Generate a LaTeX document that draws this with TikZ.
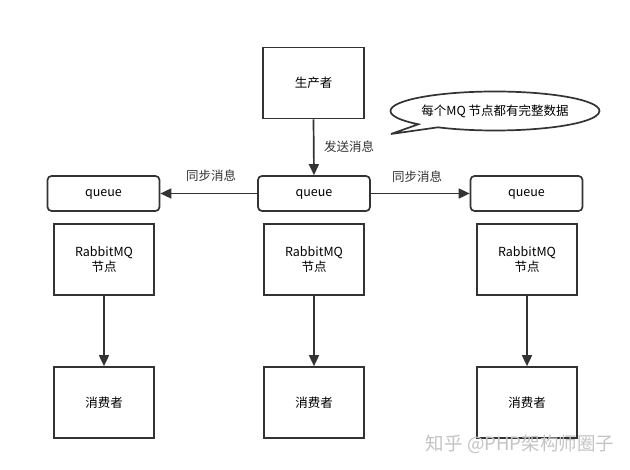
\documentclass[tikz,border=0pt]{standalone}
\usepackage{fontspec}
\setmainfont{Noto Sans CJK SC}
\usetikzlibrary{arrows.meta,shapes.callouts}
\definecolor{ink}{HTML}{333333}
\definecolor{wm}{HTML}{C4C4C4}
\tikzset{
  box/.style={draw=ink,line width=1.7pt,minimum width=100pt,minimum height=71pt,inner sep=0pt,align=center,font=\fontsize{12.5}{15}\selectfont},
  qbox/.style={draw=ink,line width=1.7pt,rounded corners=4pt,minimum width=112pt,minimum height=35pt,inner sep=0pt,text height=8pt,text depth=2pt,font=\fontsize{12.5}{15}\selectfont},
  arr/.style={draw=ink,line width=1.7pt,-{Triangle[length=11pt,width=10pt]}},
  lbl/.style={font=\fontsize{12.5}{15}\selectfont,text=ink},
}
\begin{document}
\begin{tikzpicture}[x=1pt,y=-1pt]
\useasboundingbox[fill=white] (0,0) rectangle (630,470);
% producer
\node[box,minimum width=101pt] (prod) at (313.5,83) {生产者};
% callout
\node[ellipse callout,draw=ink,line width=1.7pt,minimum width=209pt,minimum height=39pt,inner sep=0pt,
      callout absolute pointer={(391,134)},callout pointer arc=14,font=\fontsize{12.5}{15}\selectfont] (note) at (495,111) {每个MQ 节点都有完整数据};
% queues
\node[qbox] (q1) at (103.5,193.5) {queue};
\node[qbox] (q2) at (314,193.5) {queue};
\node[qbox] (q3) at (526.5,193.5) {queue};
% rabbit nodes
\node[box] (r1) at (104,259.5) {RabbitMQ\\节点};
\node[box] (r2) at (314,259.5) {RabbitMQ\\节点};
\node[box] (r3) at (527,259.5) {RabbitMQ\\节点};
% consumers
\node[box] (c1) at (104,402.5) {消费者};
\node[box] (c2) at (314,402.5) {消费者};
\node[box] (c3) at (527,402.5) {消费者};
% arrows
\draw[arr] (prod.south) -- (q2.north);
\node[lbl] (l0) at (349,147) {发送消息};
\draw[arr] (q2.west) -- (q1.east);
\node[lbl] (l1) at (211,176) {同步消息};
\draw[arr] (q2.east) -- (q3.west);
\node[lbl] (l2) at (417,177) {同步消息};
\draw[arr] (r1.south) -- (c1.north);
\draw[arr] (r2.south) -- (c2.north);
\draw[arr] (r3.south) -- (c3.north);
% watermark
\node[text=wm,font=\fontsize{18.5}{20}\selectfont] (wmk) at (520,444) {知乎 @PHP架构师圈子};
\end{tikzpicture}
\end{document}
